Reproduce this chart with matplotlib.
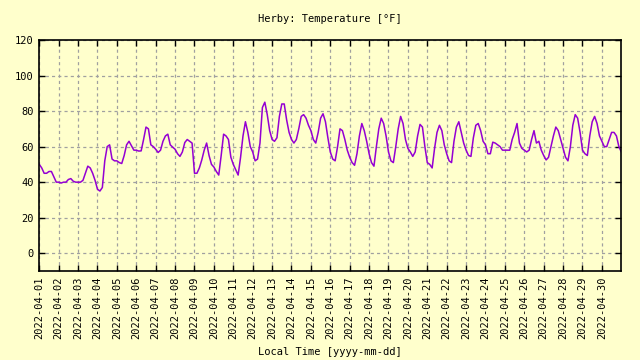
import numpy as np
import pandas as pd
import matplotlib
matplotlib.use("Agg")
import matplotlib.pyplot as plt
import matplotlib.dates as mdates

# 3-hourly temperature readings (°F), 8 per day: 00,03,06,09,12,15,18,21 h
temps = [
    50, 48, 45, 45, 46, 46, 43, 40,          # 04-01
    40, 39.5, 40, 40, 41.5, 42, 40.5, 40,    # 04-02
    40, 40, 41, 45, 49, 48, 45, 41,          # 04-03
    36, 35, 37, 52, 60, 61, 53, 52,          # 04-04
    52, 51, 50.5, 55, 61, 63, 60.5, 58,      # 04-05
    58, 57.5, 57.6, 64, 71, 70, 61, 60,      # 04-06
    58.5, 56.7, 58, 63, 66, 67, 61, 59.7,    # 04-07
    58.5, 56, 54.5, 57, 62.3, 64, 63, 62,    # 04-08
    45, 45, 48, 52.5, 58, 62, 55, 50,        # 04-09
    48.5, 46, 44, 55, 67, 66, 64, 54,        # 04-10
    50, 47, 44, 54, 66, 74, 68, 60,          # 04-11
    57, 52, 53, 62, 82, 85, 78, 69,          # 04-12
    64, 63, 65, 77, 84, 84, 75, 68,          # 04-13
    64, 62, 64, 70, 77, 78, 76, 72,          # 04-14
    69, 64, 62, 68, 76, 78.5, 74, 65,        # 04-15
    57, 53, 52, 60, 70, 69, 64, 58,          # 04-16
    54, 51, 49.5, 56, 66, 73, 69, 63,        # 04-17
    56, 51, 49, 60, 70, 76, 73, 66,          # 04-18
    57, 52, 51, 60, 70, 77, 73, 64,          # 04-19
    59, 57, 54.5, 57, 66, 72.5, 71, 60,      # 04-20
    51, 50, 48, 59, 68, 72, 69, 61,          # 04-21
    56, 52, 51, 63, 71, 74, 68, 62,          # 04-22
    58, 55, 54.5, 65, 72, 73, 69, 63,        # 04-23
    61, 56, 56, 62.5, 62, 61, 60, 58,        # 04-24
    58, 58, 58, 64, 68, 73, 62, 59,          # 04-25
    58, 57, 58, 64, 69, 62, 63, 58,          # 04-26
    55, 52.5, 54, 60, 66, 71, 69, 64,        # 04-27
    59, 54, 52, 60, 72, 78, 76, 68,          # 04-28
    58, 56, 55, 66, 74, 77, 73, 66,          # 04-29
    63, 60, 60, 64, 68, 68, 66, 60,          # 04-30
    57,                                      # 05-01 00h
]
start = "2022-04-01 00:00"
times = pd.date_range(start, periods=len(temps), freq="3h")

title = "Herby: Temperature [°F]"
xlabel = "Local Time [yyyy-mm-dd]"
yticks = [0, 20, 40, 60, 80, 100, 120]
tick_days = pd.date_range("2022-04-01", "2022-04-30", freq="D")

bg = "#ffffcc"
plt.rcParams["font.family"] = ["DejaVu Sans Mono"]

fig = plt.figure(figsize=(6.4, 3.6), dpi=100, facecolor=bg)
ax = fig.add_axes([39.3 / 640, 1 - 271 / 360, (621.3 - 39.3) / 640, (271 - 40) / 360])
ax.set_facecolor(bg)

ax.plot(times, temps, color="#9400d3", lw=1.1)

ax.set_ylim(-10, 120)
ax.set_yticks(yticks)
ax.set_xlim(pd.Timestamp("2022-04-01"), pd.Timestamp("2022-05-01"))
ax.set_xticks(tick_days)
ax.xaxis.set_major_formatter(mdates.DateFormatter("%Y-%m-%d"))
for lbl in ax.get_xticklabels():
    lbl.set_rotation(90)

ax.grid(True, color="#a0a0a0", linestyle=(0, (2.5, 2.5)), lw=0.9)
ax.tick_params(direction="in", length=4, width=1, top=True, right=True,
               labelsize=7.5, colors="black", pad=4)
for s in ax.spines.values():
    s.set_linewidth(1.2)
    s.set_color("black")

ax.set_title(title, fontsize=7.5, pad=13)
ax.set_xlabel(xlabel, fontsize=7.5, labelpad=6)

fig.savefig("out.png", dpi=100, facecolor=bg)
